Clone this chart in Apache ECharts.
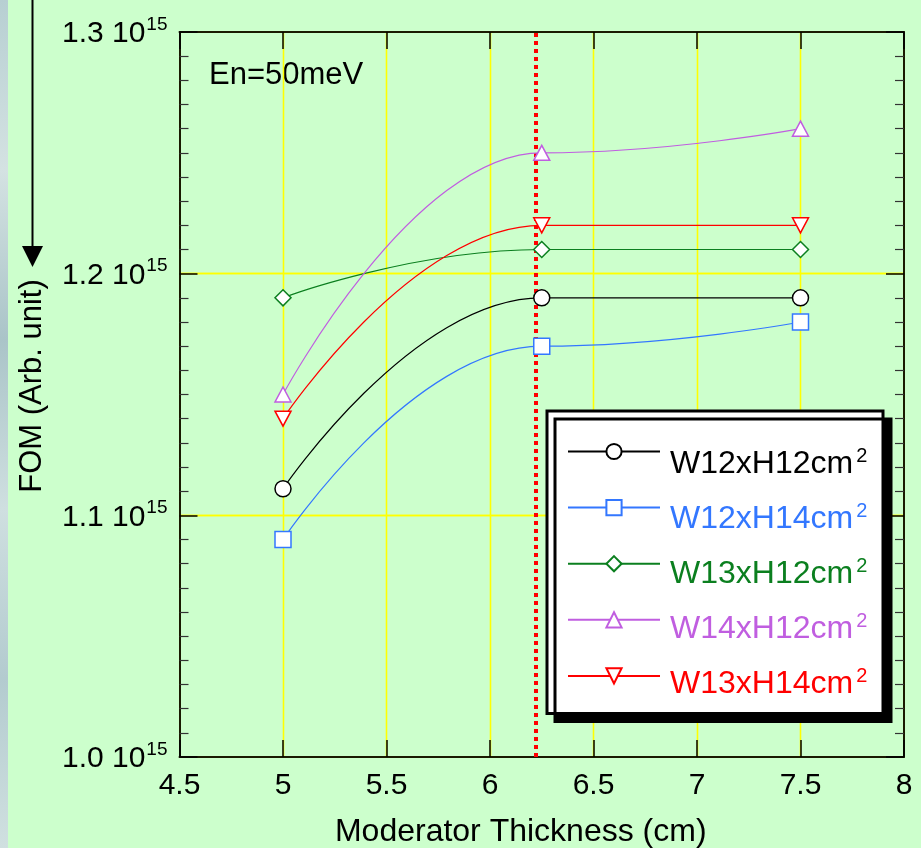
<!DOCTYPE html>
<html>
<head>
<meta charset="utf-8">
<script src="https://cdn.jsdelivr.net/npm/echarts@6/dist/echarts.min.js"></script>
<style>
  html, body { margin: 0; padding: 0; background: #ccffcc; }
  #chart { width: 921px; height: 848px; }
</style>
</head>
<body>
<div id="chart"></div>
<script>
// Moderator thickness (cm)
const thickness = [5, 6.25, 7.5];

// Figure of merit, in units of 10^15
const w12h12 = [1.111, 1.190, 1.190];
const w12h14 = [1.090, 1.170, 1.180];
const w13h12 = [1.190, 1.210, 1.210];
const w14h12 = [1.150, 1.250, 1.260];
const w13h14 = [1.140, 1.220, 1.220];

const seriesNames = ['W12xH12cm', 'W12xH14cm', 'W13xH12cm', 'W14xH12cm', 'W13xH14cm'];
const seriesValues = [w12h12, w12h14, w13h12, w14h12, w13h14];
const seriesColors = ['#000000', '#3377ff', '#0b7f1f', '#c05ee0', '#ff0000'];
const seriesSymbols = ['circle', 'rect', 'diamond', 'triangle', 'triangle'];
const seriesRotate = [0, 0, 0, 0, 180];

// Chosen optimum thickness marker
const optimumThickness = 6.225;

const xTicks = { min: 4.5, max: 8, step: 0.5 };
const yTicks = { min: 1.0, max: 1.3, step: 0.1 };

const FONT = '"Liberation Sans", Arial, sans-serif';
const GRID_YELLOW = '#ffff00';

const chart = echarts.init(document.getElementById('chart'), null, { renderer: 'canvas' });

const series = seriesNames.map((name, i) => ({
  name: name,
  type: 'line',
  data: thickness.map((x, j) => [x, seriesValues[i][j]]),
  smooth: 0.5,
  smoothMonotone: 'x',
  symbol: seriesSymbols[i],
  symbolRotate: seriesRotate[i],
  symbolSize: seriesSymbols[i] === 'triangle' ? [16, 15] : 16,
  showSymbol: true,
  lineStyle: { color: seriesColors[i], width: 1.2 },
  itemStyle: { color: '#ffffff', borderColor: seriesColors[i], borderWidth: 1.5 },
  emphasis: { disabled: true },
  z: 3
}));

series[0].markLine = {
  silent: true,
  symbol: 'none',
  label: { show: false },
  lineStyle: { color: '#ff0000', width: 4, type: [4, 4] },
  data: [{ xAxis: optimumThickness }],
  z: 2
};

const xAxisCommon = {
  type: 'value',
  min: xTicks.min,
  max: xTicks.max,
  interval: xTicks.step,
  axisLine: { show: true, onZero: false, lineStyle: { color: '#1a1a00', width: 2 } },
  axisTick: { show: true, inside: true, length: 17, lineStyle: { color: '#000', width: 1.5 } },
  splitLine: {
    show: true,
    showMinLine: false,
    showMaxLine: false,
    lineStyle: { color: GRID_YELLOW, width: 1.3, opacity: 1 }
  }
};

const yAxisCommon = {
  type: 'value',
  min: yTicks.min,
  max: yTicks.max,
  interval: yTicks.step,
  axisLine: { show: true, onZero: false, lineStyle: { color: '#1a1a00', width: 2 } },
  axisTick: { show: true, inside: true, length: 18, lineStyle: { color: '#000', width: 1.5 } },
  minorTick: { show: true, splitNumber: 10, length: 9, lineStyle: { color: '#333', width: 1.2 } },
  splitLine: {
    show: true,
    showMinLine: false,
    showMaxLine: false,
    lineStyle: { color: GRID_YELLOW, width: 1.3, opacity: 1 }
  }
};

// Legend: the framed box carries the line + marker icons, a second
// transparent legend lays the coloured labels just below each icon line.
const legendData = seriesNames.map((n, i) => ({ name: n, textStyle: { color: seriesColors[i] } }));

const legendIcons = {
  id: 'legendIcons',
  show: true,
  orient: 'vertical',
  left: 547,
  top: 411,
  padding: [31, 222, 29, 20],
  itemGap: 38,
  itemWidth: 92,
  itemHeight: 19,
  backgroundColor: '#ffffff',
  borderColor: '#000000',
  borderWidth: 3,
  borderRadius: 0,
  shadowColor: '#000000',
  shadowBlur: 0,
  shadowOffsetX: 8,
  shadowOffsetY: 8,
  selectedMode: false,
  data: legendData,
  formatter: () => '',
  textStyle: { fontSize: 10 },
  z: 5
};

const legendLabels = {
  id: 'legendLabels',
  show: true,
  orient: 'vertical',
  left: 547,
  top: 446,
  padding: [0, 0, 0, 20],
  itemGap: 21,
  itemWidth: 92,
  itemHeight: 19,
  icon: 'rect',
  itemStyle: { color: 'rgba(0,0,0,0)', borderWidth: 0, opacity: 0 },
  lineStyle: { opacity: 0 },
  selectedMode: false,
  data: legendData,
  formatter: n => '{m|' + n + '}{s|2}',
  textStyle: {
    fontFamily: FONT,
    padding: [0, 0, 0, 6],
    rich: {
      m: { fontSize: 32, fontFamily: FONT, lineHeight: 36 },
      s: { fontSize: 20, fontFamily: FONT, lineHeight: 14, verticalAlign: 'top', padding: [0, 0, 0, 3] }
    }
  },
  z: 6
};

chart.setOption({
  backgroundColor: '#ccffcc',
  animation: false,
  textStyle: { fontFamily: FONT },
  grid: { left: 179.5, right: 17, top: 32, bottom: 91, containLabel: false, outerBoundsMode: 'none' },
  xAxis: [
    Object.assign({}, xAxisCommon, {
      position: 'bottom',
      name: 'Moderator Thickness (cm)',
      nameLocation: 'middle',
      nameGap: 59,
      nameTextStyle: { fontSize: 32, color: '#000', fontFamily: FONT, padding: [0, 42, 0, 0] },
      axisLabel: { fontSize: 30, color: '#000', margin: 14, fontFamily: FONT }
    }),
    Object.assign({}, xAxisCommon, {
      position: 'top',
      axisLabel: { show: false }
    })
  ],
  yAxis: [
    Object.assign({}, yAxisCommon, {
      position: 'left',
      name: 'FOM (Arb. unit)',
      nameLocation: 'middle',
      nameGap: 132,
      nameTextStyle: { fontSize: 31, color: '#000', fontFamily: FONT, padding: [0, 0, 0, 17] },
      axisLabel: {
        margin: 12,
        formatter: v => '{m|' + v.toFixed(1) + ' 10}{s|15}',
        rich: {
          m: { fontSize: 30, color: '#000', fontFamily: FONT, lineHeight: 34, padding: [4, 1, 0, 0], verticalAlign: 'bottom' },
          s: { fontSize: 19, color: '#000', fontFamily: FONT, verticalAlign: 'top', lineHeight: 34, padding: [0, 0, 18, 0] }
        }
      }
    }),
    Object.assign({}, yAxisCommon, {
      position: 'right',
      axisLabel: { show: false }
    })
  ],
  legend: [legendIcons, legendLabels],
  graphic: [
    {
      type: 'rect',
      left: 0, top: 0,
      shape: { width: 8, height: 848 },
      style: {
        fill: new echarts.graphic.LinearGradient(0, 0, 0, 1, [
          { offset: 0, color: '#b7cfd2' },
          { offset: 0.2, color: '#d4e2e2' },
          { offset: 0.4, color: '#aac4c8' },
          { offset: 0.6, color: '#cfdfe0' },
          { offset: 0.8, color: '#b3cbcf' },
          { offset: 1, color: '#d0e0e0' }
        ])
      },
      silent: true
    },
    {
      type: 'line',
      shape: { x1: 32.5, y1: 0, x2: 32.5, y2: 250 },
      style: { stroke: '#000', lineWidth: 2 },
      silent: true
    },
    {
      type: 'polygon',
      shape: { points: [[22, 246], [43, 246], [32.5, 267]] },
      style: { fill: '#000' },
      silent: true
    },
    {
      type: 'text',
      left: 209,
      top: 60,
      style: { text: 'En=50meV', fontSize: 31, fontFamily: FONT, fill: '#000' },
      silent: true
    }
  ],
  series: series
});
</script>
</body>
</html>
